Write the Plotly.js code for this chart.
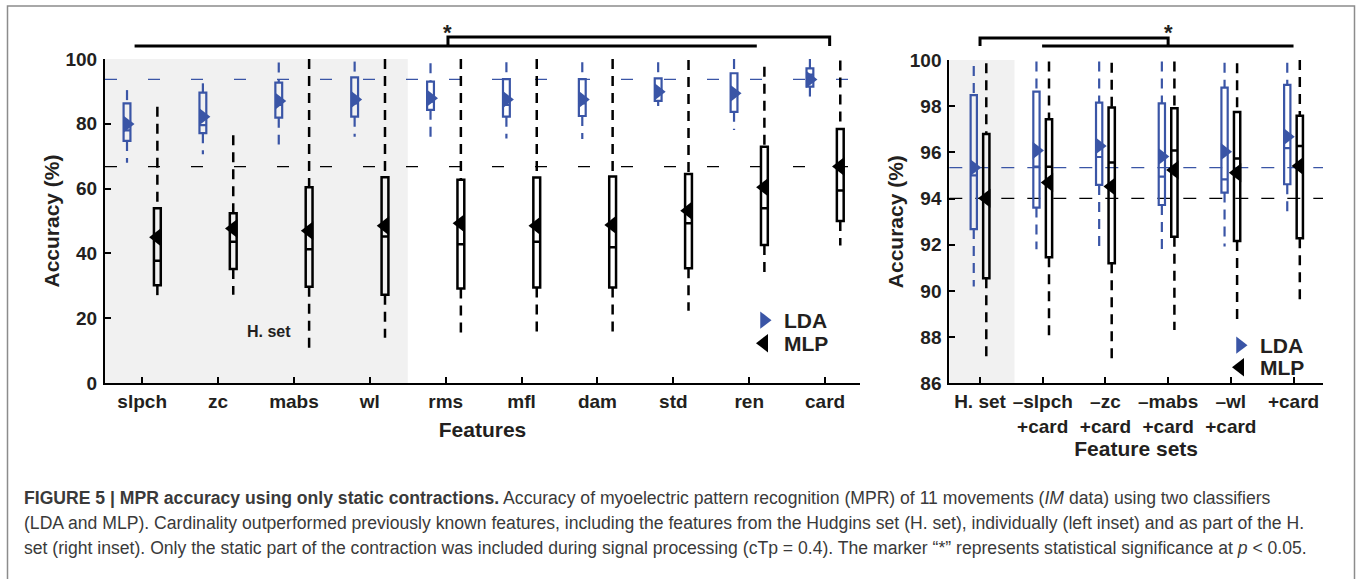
<!DOCTYPE html>
<html><head><meta charset="utf-8">
<script src="https://cdn.plot.ly/plotly-3.0.1.min.js"></script>
<style>html,body{margin:0;padding:0;background:#fff}</style>
</head><body><div id="chart" style="width:1357px;height:579px"></div>
<script>
// ---------- Left panel: individual features ----------
const featLabels = ['slpch','zc','mabs','wl','rms','mfl','dam','std','ren','card'];
const ldaFUpper  = [90.4, 92.5, 98.9, 99.2, 98.7, 99.0, 99.0, 99.0, 100, 100];
const ldaFQ3     = [86.3, 89.6, 92.7, 94.3, 93.0, 93.8, 93.8, 94.0, 95.6, 97.1];
const ldaFMedian = [78.0, 79.6, 85.8, 86.3, 86.8, 85.8, 86.3, 89.5, 89.0, 95.2];
const ldaFQ1     = [74.7, 77.1, 81.9, 82.2, 84.3, 82.2, 82.4, 87.1, 83.7, 91.5];
const ldaFLower  = [68.0, 70.6, 73.6, 76.0, 74.0, 75.5, 75.3, 85.5, 78.1, 86.5];
const ldaFMean   = [79.9, 82.2, 87.0, 87.5, 87.9, 87.5, 87.5, 89.9, 89.4, 93.7];

const mlpFUpper  = [85.3, 76.5, 100, 100, 100, 100, 100, 99.7, 97.6, 99.5];
const mlpFQ3     = [53.9, 52.4, 60.4, 63.5, 62.7, 63.4, 63.7, 64.5, 72.9, 78.4];
const mlpFMedian = [37.7, 43.6, 41.3, 45.2, 42.8, 43.6, 41.9, 49.3, 53.9, 59.4];
const mlpFQ1     = [30.2, 35.2, 29.7, 27.2, 29.2, 29.5, 29.5, 35.4, 42.6, 50.0];
const mlpFLower  = [26.1, 27.2, 9.4, 14.0, 15.0, 15.5, 15.3, 22.3, 33.3, 42.4];
const mlpFMean   = [45.0, 47.7, 47.0, 48.5, 49.3, 48.5, 48.8, 53.2, 60.4, 66.8];

// ---------- Right panel: feature sets ----------
const setLabels = ['H. set', '–slpch<br>+card', '–zc<br>+card', '–mabs<br>+card', '–wl<br>+card', '+card'];
const ldaSUpper  = [99.74, 99.93, 99.93, 99.93, 99.88, 99.88];
const ldaSQ3     = [98.48, 98.63, 98.15, 98.12, 98.80, 98.92];
const ldaSMedian = [95.00, 95.38, 95.80, 94.95, 94.83, 96.18];
const ldaSQ1     = [92.68, 93.61, 94.59, 93.72, 94.26, 94.62];
const ldaSLower  = [90.19, 91.80, 91.70, 91.70, 91.92, 93.19];
const ldaSMean   = [95.34, 96.08, 96.28, 95.82, 96.03, 96.68];

const mlpSUpper  = [99.86, 99.93, 99.88, 99.93, 99.86, 100.0];
const mlpSQ3     = [96.80, 97.43, 97.94, 97.91, 97.75, 97.59];
const mlpSMedian = [94.10, 95.38, 95.56, 96.08, 95.74, 96.28];
const mlpSQ1     = [90.55, 91.46, 91.20, 92.35, 92.16, 92.28];
const mlpSLower  = [86.87, 87.90, 87.01, 88.31, 88.74, 89.54];
const mlpSMean   = [94.01, 94.69, 94.52, 95.24, 95.12, 95.41];

const leftTicks = [0, 20, 40, 60, 80, 100];
const rightTicks = [86, 88, 90, 92, 94, 96, 98, 100];

// ---------- styling ----------
const FONT = 'Liberation Sans, Arial, Helvetica, sans-serif';
const TXT = '#231f20';
const BLUE = '#3a55a6';
const BLACK = '#000000';
const GRAY = '#f1f1f1';
const WHISK_DASH = '10px,7px';

const traces = [];
function panel(n, off, w, xa, ya, legLda, legMlp, lda, mlp) {
  const cats = Array.from({length: n}, (_, i) => i + 1);
  const specs = [[lda, -off, BLUE, 'LDA', 'triangle-right', 15, legLda, 2.2], [mlp, off, BLACK, 'MLP', 'triangle-left', 16.5, legMlp, 2.5]];
  specs.forEach(([d, o, col, name, sym, ms, leg, lw]) => {
    const pos = cats.map(c => c + o);
    traces.push({
      type: 'box', x: pos, q1: d.q1, median: d.med, q3: d.q3, lowerfence: d.q1, upperfence: d.q3,
      width: w, whiskerwidth: 0, boxpoints: false, fillcolor: 'rgba(0,0,0,0)',
      line: {color: col, width: lw}, xaxis: xa, yaxis: ya, showlegend: false, hoverinfo: 'skip'
    });
    const wx = [], wy = [];
    pos.forEach((p, i) => {
      wx.push(p, p, null, p, p, null);
      wy.push(d.up[i], d.q3[i], null, d.q1[i], d.lo[i], null);
    });
    traces.push({
      type: 'scatter', mode: 'lines', x: wx, y: wy, connectgaps: false,
      line: {color: col, width: lw, dash: WHISK_DASH}, xaxis: xa, yaxis: ya, showlegend: false, hoverinfo: 'skip'
    });
  });
  specs.forEach(([d, o, col, name, sym, ms, leg]) => {
    traces.push({
      type: 'scatter', mode: 'markers', name: name, x: cats.map(c => c + o), y: d.mean,
      marker: {symbol: sym, size: ms, color: col, line: {width: 0}},
      xaxis: xa, yaxis: ya, legend: leg, showlegend: true
    });
  });
}
panel(featLabels.length, 0.2, 0.09, 'x', 'y', 'legend', 'legend3',
  {up: ldaFUpper, q3: ldaFQ3, med: ldaFMedian, q1: ldaFQ1, lo: ldaFLower, mean: ldaFMean},
  {up: mlpFUpper, q3: mlpFQ3, med: mlpFMedian, q1: mlpFQ1, lo: mlpFLower, mean: mlpFMean});
panel(setLabels.length, 0.1, 0.1, 'x2', 'y2', 'legend2', 'legend4',
  {up: ldaSUpper, q3: ldaSQ3, med: ldaSMedian, q1: ldaSQ1, lo: ldaSLower, mean: ldaSMean},
  {up: mlpSUpper, q3: mlpSQ3, med: mlpSMedian, q1: mlpSQ1, lo: mlpSLower, mean: mlpSMean});

const W = 1357, H = 579;
const px = v => v / W;
const py = v => 1 - v / H;
const tickFont = {family: FONT, size: 19, color: TXT, weight: 700};
const titleFont = {family: FONT, size: 21, color: TXT, weight: 700};

function xAxis(dom, range, labels, anchor, title, standoff) {
  return {
    domain: dom, range: range, anchor: anchor,
    tickmode: 'array', tickvals: labels.map((_, i) => i + 1), ticktext: labels,
    ticks: 'inside', ticklen: 6, tickwidth: 2, tickcolor: 'black',
    showline: true, linewidth: 2, linecolor: 'black', showgrid: false, zeroline: false,
    tickfont: tickFont, ticklabelstandoff: 0,
    title: {text: title, font: titleFont, standoff: standoff}, fixedrange: true
  };
}
function yAxis(dom, range, ticks, anchor) {
  return {
    domain: dom, range: range, anchor: anchor,
    tickmode: 'array', tickvals: ticks,
    ticks: 'inside', ticklen: 6, tickwidth: 2, tickcolor: 'black',
    showline: true, linewidth: 2, linecolor: 'black', showgrid: false, zeroline: false,
    tickfont: tickFont, ticklabelstandoff: 2,
    title: {text: 'Accuracy (%)', font: titleFont, standoff: 0}, fixedrange: true
  };
}

const leftRange = [0.51, 10.46];
const rightRange = [0.51, 6.47];

const shapes = [
  // grey "H. set" regions
  {type: 'rect', xref: 'x', yref: 'y domain', x0: leftRange[0], x1: 4.5, y0: 0, y1: 1, fillcolor: GRAY, line: {width: 0}, layer: 'below'},
  {type: 'rect', xref: 'x2', yref: 'y2 domain', x0: rightRange[0], x1: 1.55, y0: 0, y1: 1, fillcolor: GRAY, line: {width: 0}, layer: 'below'},
  // reference lines at the best means
  {type: 'line', xref: 'x domain', yref: 'y', x0: 0, x1: 1, y0: ldaFMean[9], y1: ldaFMean[9], line: {color: BLUE, width: 1.2, dash: '12px,31px'}, layer: 'below'},
  {type: 'line', xref: 'x domain', yref: 'y', x0: 0, x1: 1, y0: mlpFMean[9], y1: mlpFMean[9], line: {color: BLACK, width: 1.2, dash: '12px,31px'}, layer: 'below'},
  {type: 'line', xref: 'x2 domain', yref: 'y2', x0: 0, x1: 1, y0: ldaSMean[0], y1: ldaSMean[0], line: {color: BLUE, width: 1.2, dash: '13px,13px'}, layer: 'below'},
  {type: 'line', xref: 'x2 domain', yref: 'y2', x0: 0, x1: 1, y0: mlpSMean[0], y1: mlpSMean[0], line: {color: BLACK, width: 1.2, dash: '13px,13px'}, layer: 'below'},
  // significance brackets
  {type: 'line', xref: 'x', yref: 'paper', x0: 0.9, x1: 9.1, y0: py(46), y1: py(46), line: {color: 'black', width: 3}},
  {type: 'path', xref: 'x', yref: 'paper', path: `M 5.03 ${py(46)} L 5.03 ${py(37)} L 10.06 ${py(37)} L 10.06 ${py(46)}`, line: {color: 'black', width: 3}},
  {type: 'line', xref: 'x2', yref: 'paper', x0: 1.99, x1: 6.0, y0: py(46), y1: py(46), line: {color: 'black', width: 3}},
  {type: 'path', xref: 'x2', yref: 'paper', path: `M 1.0 ${py(46)} L 1.0 ${py(38)} L 4.0 ${py(38)} L 4.0 ${py(46)}`, line: {color: 'black', width: 3}},
  // outer frame
  {type: 'rect', xref: 'paper', yref: 'paper', x0: px(7.5), x1: px(1354.5), y0: -0.05, y1: py(6), line: {color: '#8c8c8c', width: 1.5}, fillcolor: 'rgba(0,0,0,0)'}
];

const capFont = {family: FONT, size: 17.6, color: '#3a3a3a'};
const capLines = [
  '<b>FIGURE 5 | MPR accuracy using only static contractions.</b> Accuracy of myoelectric pattern recognition (MPR) of 11 movements (<i>IM</i> data) using two classifiers',
  '(LDA and MLP). Cardinality outperformed previously known features, including the features from the Hudgins set (H. set), individually (left inset) and as part of the H.',
  'set (right inset). Only the static part of the contraction was included during signal processing (cTp = 0.4). The marker “*” represents statistical significance at <i>p</i> &lt; 0.05.'
];
const capY = [498, 523, 548];
const annotations = capLines.map((t, i) => ({
  text: t, xref: 'paper', yref: 'paper', x: px(22), y: py(capY[i]), xanchor: 'left', yanchor: 'middle',
  showarrow: false, font: capFont, align: 'left'
}));
annotations.push(
  {text: '*', xref: 'x', yref: 'paper', x: 5.03, y: py(32), yanchor: 'middle', showarrow: false, font: {family: FONT, size: 22, color: TXT, weight: 700}},
  {text: '*', xref: 'x2', yref: 'paper', x: 4.0, y: py(32), yanchor: 'middle', showarrow: false, font: {family: FONT, size: 22, color: TXT, weight: 700}},
  {text: 'H. set', xref: 'x', yref: 'y', x: 2.67, y: 16.0, showarrow: false, font: {family: FONT, size: 16, color: TXT, weight: 700}}
);

const legendFont = {family: FONT, size: 21, color: TXT, weight: 700};
function leg(xPix, topPix) {
  return {x: px(xPix), y: py(topPix), xanchor: 'left', yanchor: 'top', bgcolor: 'rgba(0,0,0,0)', font: legendFont, tracegroupgap: 0, itemwidth: 30};
}
const layout = {
  width: W, height: H, margin: {l: 0, r: 0, t: 0, b: 0},
  paper_bgcolor: 'white', plot_bgcolor: 'rgba(0,0,0,0)',
  showlegend: true, boxmode: 'overlay',
  xaxis: xAxis([px(105), px(860)], leftRange, featLabels, 'y', 'Features', 12),
  yaxis: yAxis([py(383), py(59)], [0, 100], leftTicks, 'x'),
  xaxis2: xAxis([px(949.3), px(1323)], rightRange, setLabels, 'y2', 'Feature sets', 6),
  yaxis2: yAxis([py(383.3), py(60)], [86, 100], rightTicks, 'x2'),
  legend: leg(744, 300),
  legend3: leg(744, 323),
  legend2: leg(1220, 325),
  legend4: leg(1220, 347),
  shapes: shapes, annotations: annotations
};

Plotly.newPlot('chart', traces, layout, {displayModeBar: false, staticPlot: true});
</script>
</body></html>
